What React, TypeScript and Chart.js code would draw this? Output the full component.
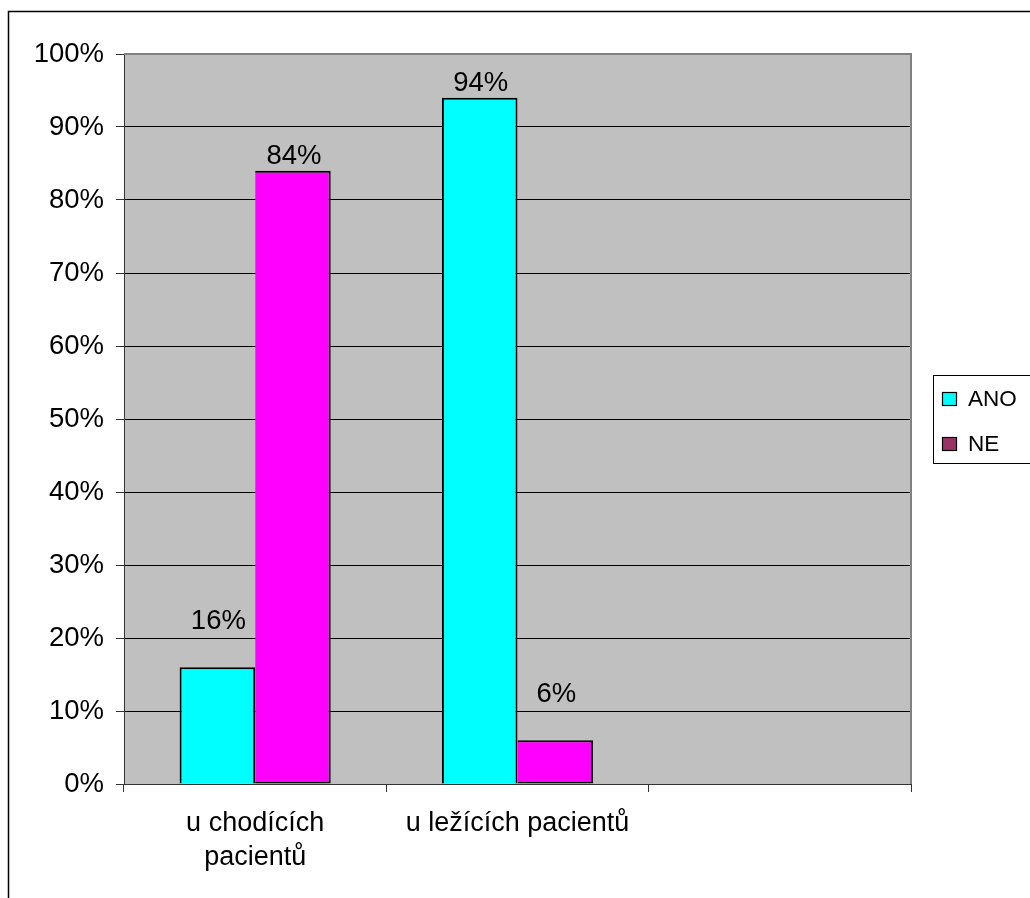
import React, { useEffect, useRef } from 'react';
import { Chart, registerables } from 'chart.js';

Chart.register(...registerables);

// Categories (the first one breaks onto two lines)
const categories: (string | string[])[] = [['u chodících', 'pacientů'], 'u ležících pacientů', ''];

// Series values in percent
const anoValues: (number | null)[] = [16, 94, null];
const neValues: (number | null)[] = [84, 6, null];

const seriesNames = ['ANO', 'NE'];
const barColors = ['#00FFFF', '#FF00FF'];
const legendSwatches = ['#00FFFF', '#993366'];

const FONT = "'Liberation Sans', Arial, Helvetica, sans-serif";
const FONT_SIZE = 27.5;

// White page, outer frame and grey plot area
const backgroundPlugin = {
  id: 'excelBackground',
  beforeDraw(chart: any) {
    const { ctx, chartArea, width, height } = chart;
    ctx.save();
    ctx.fillStyle = '#FFFFFF';
    ctx.fillRect(0, 0, width, height);
    ctx.strokeStyle = '#000000';
    ctx.lineWidth = 1.5;
    ctx.beginPath();
    ctx.moveTo(8.5, height + 5);
    ctx.lineTo(8.5, 11.5);
    ctx.lineTo(width + 5, 11.5);
    ctx.stroke();
    ctx.fillStyle = '#C0C0C0';
    ctx.fillRect(chartArea.left, chartArea.top, chartArea.right - chartArea.left, chartArea.bottom - chartArea.top);
    ctx.restore();
  },
};

// Grey border on the top and right sides of the plot area
const plotBorderPlugin = {
  id: 'plotBorder',
  afterDatasetsDraw(chart: any) {
    const { ctx, chartArea } = chart;
    ctx.save();
    ctx.strokeStyle = '#808080';
    ctx.lineWidth = 2;
    ctx.beginPath();
    ctx.moveTo(chartArea.left, chartArea.top);
    ctx.lineTo(chartArea.right, chartArea.top);
    ctx.lineTo(chartArea.right, chartArea.bottom);
    ctx.stroke();
    ctx.restore();
  },
};

// Percentage labels above each bar
const valueLabelPlugin = {
  id: 'valueLabels',
  afterDatasetsDraw(chart: any) {
    const { ctx } = chart;
    ctx.save();
    ctx.font = `${FONT_SIZE}px ${FONT}`;
    ctx.fillStyle = '#000000';
    ctx.textAlign = 'center';
    ctx.textBaseline = 'alphabetic';
    chart.data.datasets.forEach((ds: any, di: number) => {
      const meta = chart.getDatasetMeta(di);
      meta.data.forEach((el: any, i: number) => {
        const v = ds.data[i];
        if (v === null || v === undefined) return;
        const lift = v < 50 ? 38 : 7;
        ctx.fillText(`${v}%`, el.x + 1, el.y - lift);
      });
    });
    ctx.restore();
  },
};

// Boxed legend on the right
const boxLegendPlugin = {
  id: 'boxLegend',
  afterDraw(chart: any) {
    const { ctx, width } = chart;
    const boxLeft = 933;
    const boxTop = 375;
    const boxBottom = 463;
    ctx.save();
    ctx.strokeStyle = '#000000';
    ctx.lineWidth = 1;
    ctx.strokeRect(boxLeft + 0.5, boxTop + 0.5, width + 10 - boxLeft, boxBottom - boxTop);
    ctx.font = `22.5px ${FONT}`;
    ctx.textBaseline = 'middle';
    ctx.textAlign = 'left';
    chart.data.datasets.forEach((ds: any, i: number) => {
      const cy = 399 + i * 45;
      ctx.fillStyle = legendSwatches[i];
      ctx.fillRect(942, cy - 7, 15, 14);
      ctx.strokeStyle = '#000000';
      ctx.lineWidth = 1.2;
      ctx.strokeRect(942.5, cy - 6.5, 14, 13);
      ctx.fillStyle = '#000000';
      ctx.fillText(ds.label, 968, cy + 1);
    });
    ctx.restore();
  },
};

export default function App() {
  const canvasRef = useRef<HTMLCanvasElement | null>(null);

  useEffect(() => {
    if (!canvasRef.current) return;
    const chart = new Chart(canvasRef.current, {
      type: 'bar',
      data: {
        labels: categories,
        datasets: [
          {
            label: seriesNames[0],
            data: anoValues,
            backgroundColor: barColors[0],
            borderColor: '#000000',
            borderWidth: 2,
            borderSkipped: 'start',
          },
          {
            label: seriesNames[1],
            data: neValues,
            backgroundColor: barColors[1],
            borderColor: '#000000',
            borderWidth: 2,
            borderSkipped: 'left',
          },
        ],
      },
      options: {
        responsive: false,
        animation: false,
        layout: { padding: { left: 0, top: 54, right: 119, bottom: 0 } },
        datasets: {
          bar: { categoryPercentage: 0.576, barPercentage: 1 },
        },
        plugins: {
          legend: { display: false },
          tooltip: { enabled: false },
        },
        scales: {
          x: {
            offset: true,
            grid: {
              display: true,
              offset: true,
              drawOnChartArea: false,
              drawTicks: true,
              tickLength: 8,
              tickColor: '#333333',
              tickWidth: 1,
            },
            border: { display: true, color: '#333333', width: 1 },
            ticks: {
              color: '#000000',
              font: { family: FONT, size: 27, lineHeight: 1.26 },
              padding: 15,
              maxRotation: 0,
              autoSkip: false,
            },
            afterFit(scale: any) {
              scale.height = 114;
            },
          },
          y: {
            min: 0,
            max: 100,
            grid: {
              color: (c: any) => (c.tick && c.tick.value === 100 ? 'rgba(0,0,0,0)' : '#000000'),
              lineWidth: 1,
              tickLength: 8,
              tickColor: '#333333',
              tickWidth: 1,
            },
            border: { display: true, color: '#333333', width: 1 },
            ticks: {
              stepSize: 10,
              color: '#000000',
              font: { family: FONT, size: FONT_SIZE },
              padding: 12,
              callback: (v: any) => `${v}%`,
            },
            afterFit(scale: any) {
              scale.width = 124;
            },
          },
        },
      },
      plugins: [backgroundPlugin, plotBorderPlugin, valueLabelPlugin, boxLegendPlugin],
    });
    return () => chart.destroy();
  }, []);

  return (
    <div style={{ position: 'absolute', left: 0, top: 0, width: 1030, height: 898 }}>
      <canvas ref={canvasRef} width={1030} height={898} />
    </div>
  );
}
